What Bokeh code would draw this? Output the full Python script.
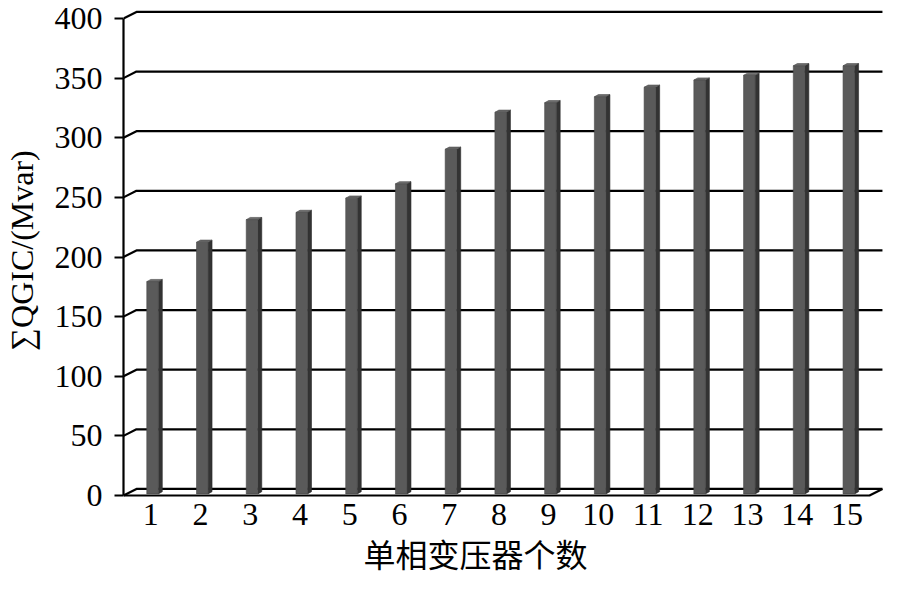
import numpy as np
from bokeh.plotting import figure
from bokeh.models import Range1d, FixedTicker, Title
from bokeh.embed import file_html
from bokeh.resources import INLINE

# ---- data ----
categories = list(range(1, 16))
qgic = [178, 211, 230, 236, 248, 260, 289, 320, 328, 333, 341, 347, 351, 359, 359]
y_ticks = [0, 50, 100, 150, 200, 250, 300, 350, 400]
y_label = "\u2211QGIC/(Mvar)"
x_label = "单相变压器个数"

# ---- layout (pixels) ----
W, H = 884, 579
LB, RB, TB = 120, 1, 1
FW = W - LB - RB
FH = 498
BB = H - TB - FH
PX_X = 49.93     # px per category
PX_Y = 1.1925    # px per unit

x0 = 0.452                 # front y-axis position (data)
x1 = x0 + FW / PX_X
y1 = 400 + 17 / PX_Y
y0 = y1 - FH / PX_Y

# 3-D offsets (data units)
DX = 13 / PX_X
DY = 6.6 / PX_Y
SX = 4.2 / PX_X     # bar front-face shift
SY = 1.6 / PX_Y
HW = 5.8 / PX_X     # bar half-width
BDX = 4.0 / PX_X    # bar depth
BDY = 2.2 / PX_Y

p = figure(width=W, height=H, x_range=Range1d(x0, x1), y_range=Range1d(y0, y1),
           output_backend="svg", toolbar_location=None,
           min_border_left=LB, min_border_right=RB, min_border_top=TB, min_border_bottom=BB)
p.outline_line_color = None
p.grid.visible = False
p.background_fill_color = "white"
p.border_fill_color = "white"

n = len(categories)
front_end = x0 + n
back_end = front_end + DX

# back wall gridlines with perspective diagonals
gx, gy = [], []
for v in y_ticks:
    gx.append([x0, x0 + DX, back_end])
    gy.append([v, v + DY, v + DY])
p.multi_line(gx, gy, line_color="black", line_width=2.2)

# floor front line + right diagonal
p.line([x0, front_end, front_end + DX], [0, 0, DY], line_color="black", line_width=2.2)

# bars
cat = np.array(categories, dtype=float) - 0.048
vals = np.array(qgic, dtype=float)
xl = cat + SX - HW
xr = cat + SX + HW
yb = np.full(n, SY)
yt = vals + SY

side_xs = [[a, a + BDX, a + BDX, a] for a in xr]
side_ys = [[b, b + BDY, t + BDY, t] for b, t in zip(yb, yt)]
p.patches(side_xs, side_ys, fill_color="#333333", line_color="#2a2a2a", line_width=0.6)
top_xs = [[l, r, r + BDX, l + BDX] for l, r in zip(xl, xr)]
top_ys = [[t, t, t + BDY, t + BDY] for t in yt]
p.patches(top_xs, top_ys, fill_color="#6c6c6c", line_color="#4a4a4a", line_width=0.6)
p.quad(left=xl, right=xr, bottom=yb, top=yt, fill_color="#5a5a5a", line_color="#4a4a4a", line_width=0.6)

# y axis (front)
ya = p.yaxis[0]
ya.ticker = FixedTicker(ticks=y_ticks)
ya.bounds = (0, 400)
ya.axis_line_width = 2.2
ya.axis_line_color = "black"
ya.major_tick_line_width = 2.2
ya.major_tick_out = 9
ya.major_tick_in = 0
ya.minor_tick_line_color = None
ya.major_label_standoff = 12
ya.major_label_text_font = "Liberation Serif"
ya.major_label_text_font_size = "32px"
ya.major_label_text_color = "black"
ya.axis_label = y_label
ya.axis_label_text_font = "Liberation Serif"
ya.axis_label_text_font_size = "32px"
ya.axis_label_text_font_style = "normal"
ya.axis_label_text_color = "black"
ya.axis_label_standoff = 12

# x axis
xa = p.xaxis[0]
xa.ticker = FixedTicker(ticks=categories)
xa.axis_line_color = None
xa.major_tick_line_color = None
xa.minor_tick_line_color = None
xa.major_tick_out = 0
xa.major_label_standoff = 4
xa.major_label_text_font = "Liberation Serif"
xa.major_label_text_font_size = "32px"
xa.major_label_text_color = "black"

xt = Title(text=x_label, align="left", offset=240, standoff=0,
           text_font="Noto Sans CJK SC", text_font_size="32px",
           text_font_style="normal", text_color="black")
p.add_layout(xt, "below")

open("out.html", "w").write(file_html(p, INLINE))
